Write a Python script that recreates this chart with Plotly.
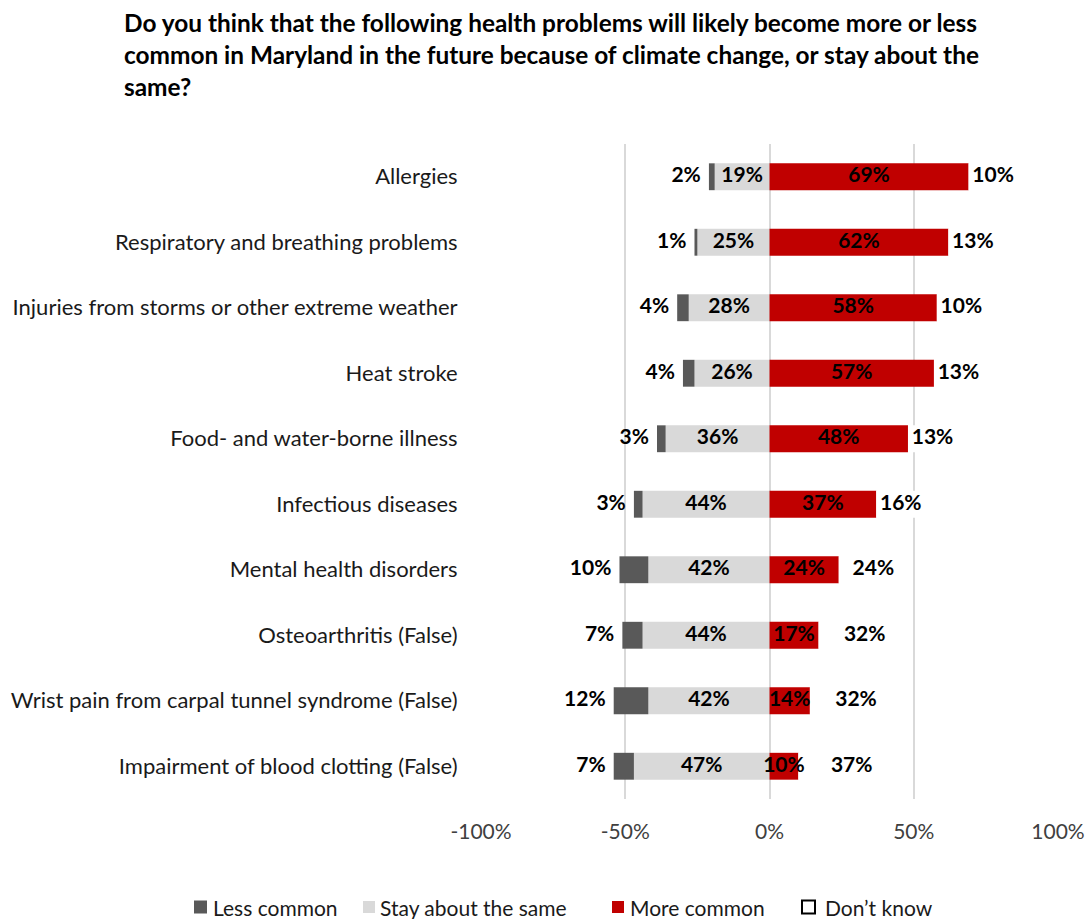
import plotly.graph_objects as go

# Survey answers, in percent of respondents
problems = [
    "Allergies",
    "Respiratory and breathing problems",
    "Injuries from storms or other extreme weather",
    "Heat stroke",
    "Food- and water-borne illness",
    "Infectious diseases",
    "Mental health disorders",
    "Osteoarthritis (False)",
    "Wrist pain from carpal tunnel syndrome (False)",
    "Impairment of blood clotting (False)",
]
less_common = [2, 1, 4, 4, 3, 3, 10, 7, 12, 7]
stay_same = [19, 25, 28, 26, 36, 44, 42, 44, 42, 47]
more_common = [69, 62, 58, 57, 48, 37, 24, 17, 14, 10]
dont_know = [10, 13, 10, 13, 13, 16, 24, 32, 32, 37]

x_tick_values = [-100, -50, 0, 50, 100]
x_tick_labels = ["-100%", "-50%", "0%", "50%", "100%"]

series_names = ["Less common", "Stay about the same", "More common", "Don\u2019t know"]

FONT = "Lato"
C_LESS = "#595959"
C_SAME = "#d9d9d9"
C_MORE = "#c00000"
C_DK = "#ffffff"
LABEL_FONT = dict(family=FONT, size=21, color="black")
LABEL_GAP = 2.8      # space between a "less common" bar and its label, in axis units
DK_MIN_OFFSET = 8.5  # "don't know" labels never sit closer than this to the red bar's end

# Plot area in pixels, used to place the title and the legend around it
PLOT_L, PLOT_R, PLOT_T, PLOT_B = 481, 1058, 144, 799
W, H = 1090, 919


def px_to_paper_x(px):
    return (px - PLOT_L) / (PLOT_R - PLOT_L)


def px_to_paper_y(py):
    return (PLOT_B - py) / (PLOT_B - PLOT_T)


fig = go.Figure()

# Negative side: "stay the same" sits next to zero, "less common" beyond it
fig.add_bar(y=problems, x=[-v for v in stay_same], orientation="h", name=series_names[1],
            marker=dict(color=C_SAME, line=dict(width=0)), hoverinfo="skip")
fig.add_bar(y=problems, x=[-v for v in less_common], orientation="h", name=series_names[0],
            marker=dict(color=C_LESS, line=dict(width=0)), hoverinfo="skip")
# Positive side: "more common", then "don't know" as an unfilled block
fig.add_bar(y=problems, x=more_common, orientation="h", name=series_names[2],
            marker=dict(color=C_MORE, line=dict(width=0)), hoverinfo="skip")
fig.add_bar(y=problems, x=dont_know, orientation="h", name=series_names[3],
            marker=dict(color=C_DK, line=dict(width=0)), hoverinfo="skip")


# Value labels
def pct(values):
    return [f"<b>{v}%</b>" for v in values]


fig.add_scatter(y=problems, x=[-(s + l) - LABEL_GAP for s, l in zip(stay_same, less_common)],
                mode="text", text=pct(less_common), textposition="middle left",
                textfont=LABEL_FONT, hoverinfo="skip")
fig.add_scatter(y=problems, x=[-s / 2 for s in stay_same],
                mode="text", text=pct(stay_same), textposition="middle center",
                textfont=LABEL_FONT, hoverinfo="skip")
fig.add_scatter(y=problems, x=[m / 2 for m in more_common],
                mode="text", text=pct(more_common), textposition="middle center",
                textfont=LABEL_FONT, hoverinfo="skip")
fig.add_scatter(y=problems, x=[max(m + d / 2, m + DK_MIN_OFFSET) for m, d in zip(more_common, dont_know)],
                mode="text", text=pct(dont_know), textposition="middle center",
                textfont=LABEL_FONT, hoverinfo="skip")

# Title, one annotation per line
title_lines = [
    "Do you think that the following health problems will likely become more or less",
    "common in Maryland in the future because of climate change, or stay about the",
    "same?",
]
for i, line in enumerate(title_lines):
    fig.add_annotation(text=f"<b>{line}</b>", xref="paper", yref="paper",
                       x=px_to_paper_x(122), y=px_to_paper_y(22 + 32 * i),
                       xanchor="left", yanchor="middle", showarrow=False,
                       font=dict(family=FONT, size=24.4, color="black"))

# Legend along the bottom: swatch + label for each series
legend_y = 907
legend_items = [
    # name, swatch left px, swatch size, fill, border, text left px
    (series_names[0], 194, 13, C_LESS, None, 213),
    (series_names[1], 363, 12, C_SAME, None, 380),
    (series_names[2], 612, 12, C_MORE, None, 630),
    (series_names[3], 802, 13, "white", "black", 825),
]
for name, sx, size, fill, border, tx in legend_items:
    fig.add_shape(type="rect", xref="paper", yref="paper",
                  x0=px_to_paper_x(sx), x1=px_to_paper_x(sx + size),
                  y0=px_to_paper_y(legend_y + size / 2), y1=px_to_paper_y(legend_y - size / 2),
                  fillcolor=fill,
                  line=dict(width=2 if border else 0, color=border or fill))
    fig.add_annotation(text=name, xref="paper", yref="paper",
                       x=px_to_paper_x(tx - 2), y=px_to_paper_y(legend_y),
                       xanchor="left", yanchor="middle", showarrow=False,
                       font=dict(family=FONT, size=21, color="#1a1a1a"))

fig.update_layout(
    width=W, height=H,
    margin=dict(l=PLOT_L, r=W - PLOT_R, t=PLOT_T, b=H - PLOT_B, autoexpand=False),
    paper_bgcolor="white", plot_bgcolor="white",
    barmode="relative", bargap=0.59,
    showlegend=False,
    font=dict(family=FONT, size=21, color="#1a1a1a"),
    xaxis=dict(range=[-100, 100], tickvals=x_tick_values, ticktext=x_tick_labels,
               automargin=False,
               showgrid=True, gridcolor="#d9d9d9", gridwidth=2,
               zeroline=True, zerolinecolor="#d9d9d9", zerolinewidth=2,
               showline=False, ticks="outside", ticklen=14, tickcolor="rgba(0,0,0,0)",
               tickfont=dict(family=FONT, size=21, color="#404040")),
    yaxis=dict(categoryorder="array", categoryarray=problems, autorange="reversed",
               automargin=False,
               showgrid=False, zeroline=False, showline=False,
               ticks="outside", ticklen=18, tickcolor="rgba(0,0,0,0)",
               tickfont=dict(family=FONT, size=22, color="#1a1a1a")),
)

fig.write_html("out.html")
